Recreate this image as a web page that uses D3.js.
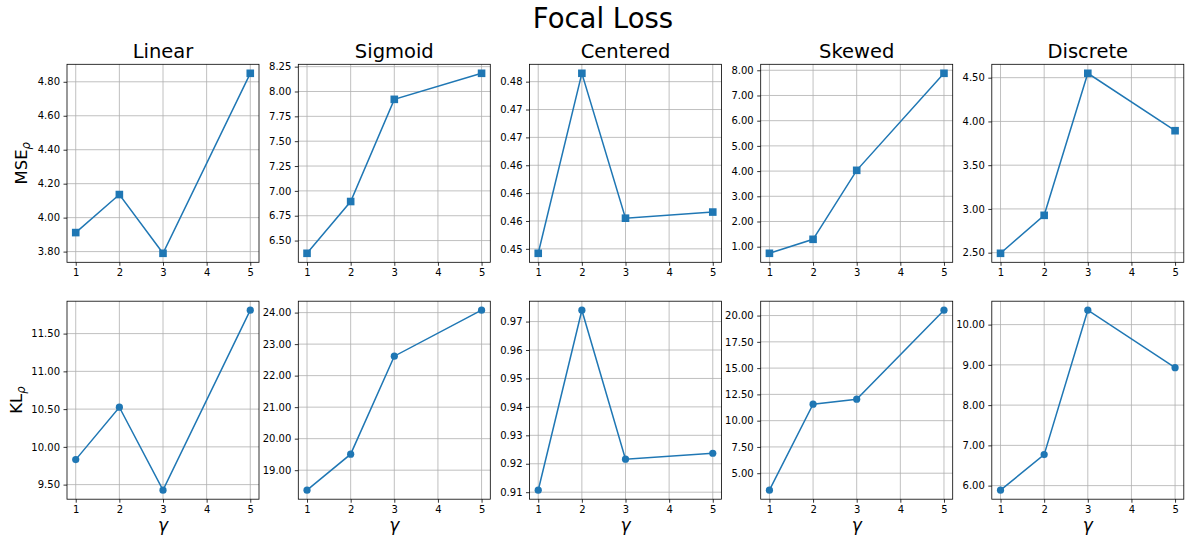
<!DOCTYPE html>
<html>
<head>
<meta charset="utf-8">
<script src="https://cdn.jsdelivr.net/npm/d3@7"></script>
<style>
  body { margin: 0; background: #fff; }
  svg { display: block; font-family: "DejaVu Sans", sans-serif; }
</style>
</head>
<body>
<div id="chart"></div>
<script>
// data
var gammas = [1, 2, 3, 5];
var xTicks = [1, 2, 3, 4, 5];
var schemes = ["Linear", "Sigmoid", "Centered", "Skewed", "Discrete"];

var mseValues = [
  [3.912, 4.136, 3.790, 4.850],
  [6.372, 6.893, 7.921, 8.183],
  [0.4492, 0.4815, 0.4555, 0.4566],
  [0.738, 1.293, 4.030, 7.880],
  [2.493, 2.927, 4.550, 3.894]
];
var klValues = [
  [9.831, 10.525, 9.426, 11.810],
  [18.365, 19.508, 22.617, 24.076],
  [0.9107, 0.9740, 0.9216, 0.9237],
  [3.383, 11.565, 12.040, 20.510],
  [5.886, 6.770, 10.358, 8.930]
];

var mseTicks = [
  [3.8, 4.0, 4.2, 4.4, 4.6, 4.8],
  [6.5, 6.75, 7.0, 7.25, 7.5, 7.75, 8.0, 8.25],
  [0.45, 0.455, 0.46, 0.465, 0.47, 0.475, 0.48],
  [1, 2, 3, 4, 5, 6, 7, 8],
  [2.5, 3.0, 3.5, 4.0, 4.5]
];
var mseTickLabels = [
  ["3.80", "4.00", "4.20", "4.40", "4.60", "4.80"],
  ["6.50", "6.75", "7.00", "7.25", "7.50", "7.75", "8.00", "8.25"],
  ["0.45", "0.46", "0.46", "0.46", "0.47", "0.47", "0.48"],
  ["1.00", "2.00", "3.00", "4.00", "5.00", "6.00", "7.00", "8.00"],
  ["2.50", "3.00", "3.50", "4.00", "4.50"]
];
var klTicks = [
  [9.5, 10.0, 10.5, 11.0, 11.5],
  [19, 20, 21, 22, 23, 24],
  [0.91, 0.92, 0.93, 0.94, 0.95, 0.96, 0.97],
  [5, 7.5, 10, 12.5, 15, 17.5, 20],
  [6, 7, 8, 9, 10]
];
var klTickLabels = [
  ["9.50", "10.00", "10.50", "11.00", "11.50"],
  ["19.00", "20.00", "21.00", "22.00", "23.00", "24.00"],
  ["0.91", "0.92", "0.93", "0.94", "0.95", "0.96", "0.97"],
  ["5.00", "7.50", "10.00", "12.50", "15.00", "17.50", "20.00"],
  ["6.00", "7.00", "8.00", "9.00", "10.00"]
];

var width = 1190, height = 543;
var color = "#1f77b4";

var svg = d3.select("#chart").append("svg")
    .attr("width", width)
    .attr("height", height);
svg.append("rect").attr("width", width).attr("height", height).attr("fill", "#fff");

svg.append("text")
    .attr("x", 603).attr("y", 28)
    .attr("text-anchor", "middle")
    .style("font-size", "27.5px")
    .text("Focal Loss");

var axW = 192, axH = 198;
var lefts = [67, 298.3, 529.5, 760.7, 991.8];
var rows = [
  {top: 64.3, values: mseValues, ticks: mseTicks, labels: mseTickLabels, name: "MSE", marker: "square", labelX: 21},
  {top: 301.2, values: klValues, ticks: klTicks, labels: klTickLabels, name: "KL", marker: "circle", labelX: 16}
];

////////////////////////////
// one panel per scheme   //
////////////////////////////

var drawPanel = function(row, r, c){
  var left = lefts[c], top = row.top;
  var vals = row.values[c];
  var g = svg.append("g").attr("transform", "translate(" + left + "," + top + ")");

  // matplotlib style 5% margins
  var xs = d3.scaleLinear().domain([0.8, 5.2]).range([0, axW]);
  var lo = d3.min(vals), hi = d3.max(vals), pad = (hi - lo) * 0.05;
  var ys = d3.scaleLinear().domain([lo - pad, hi + pad]).range([axH, 0]);

  // grid
  g.selectAll(".gx").data(xTicks).enter().append("line")
      .attr("x1", function(d){ return xs(d); }).attr("x2", function(d){ return xs(d); })
      .attr("y1", 0).attr("y2", axH)
      .attr("stroke", "#b0b0b0").attr("stroke-width", 0.8);
  g.selectAll(".gy").data(row.ticks[c]).enter().append("line")
      .attr("y1", function(d){ return ys(d); }).attr("y2", function(d){ return ys(d); })
      .attr("x1", 0).attr("x2", axW)
      .attr("stroke", "#b0b0b0").attr("stroke-width", 0.8);

  // axes
  var labels = row.labels[c];
  var yAxis = d3.axisLeft(ys).tickValues(row.ticks[c])
      .tickFormat(function(d, i){ return labels[i]; })
      .tickSize(3.5).tickPadding(3.5);
  var xAxis = d3.axisBottom(xs).tickValues(xTicks)
      .tickFormat(d3.format("d")).tickSize(3.5).tickPadding(3.5);

  var ya = g.append("g").call(yAxis);
  var xa = g.append("g").attr("transform", "translate(0," + axH + ")").call(xAxis);
  [ya, xa].forEach(function(a){
    a.select(".domain").remove();
    a.selectAll("line").attr("stroke", "#000").attr("stroke-width", 0.8);
    a.selectAll("text").attr("fill", "#000")
        .style("font-size", "10px").style("font-family", "DejaVu Sans");
  });

  g.append("rect").attr("width", axW).attr("height", axH)
      .attr("fill", "none").attr("stroke", "#000").attr("stroke-width", 0.8);

  // line + markers
  var pts = gammas.map(function(x, i){ return [x, vals[i]]; });
  g.append("path").datum(pts)
      .attr("fill", "none").attr("stroke", color).attr("stroke-width", 1.5)
      .attr("d", d3.line().x(function(d){ return xs(d[0]); }).y(function(d){ return ys(d[1]); }));

  if (row.marker === "square"){
    g.selectAll(".m").data(pts).enter().append("rect")
        .attr("x", function(d){ return xs(d[0]) - 3.8; })
        .attr("y", function(d){ return ys(d[1]) - 3.8; })
        .attr("width", 7.6).attr("height", 7.6)
        .attr("fill", color);
  } else {
    g.selectAll(".m").data(pts).enter().append("circle")
        .attr("cx", function(d){ return xs(d[0]); })
        .attr("cy", function(d){ return ys(d[1]); })
        .attr("r", 3.6)
        .attr("fill", color);
  }

  if (r === 0){
    g.append("text")
        .attr("x", axW / 2).attr("y", -6)
        .attr("text-anchor", "middle")
        .style("font-size", "19.5px")
        .text(schemes[c]);
  } else {
    g.append("text")
        .attr("x", axW / 2).attr("y", axH + 32)
        .attr("text-anchor", "middle")
        .style("font-size", "17px").style("font-style", "italic")
        .text("\u03b3");
  }

  if (c === 0){
    var lab = svg.append("text")
        .attr("transform", "translate(" + row.labelX + "," + (top + axH / 2) + ") rotate(-90)")
        .attr("text-anchor", "middle")
        .attr("dy", "0.35em")
        .style("font-size", "16.5px");
    lab.append("tspan").text(row.name);
    lab.append("tspan").attr("dy", "0.3em")
        .style("font-size", "11.5px").style("font-style", "italic").text("\u03c1");
  }
}

rows.forEach(function(row, r){
  schemes.forEach(function(s, c){ drawPanel(row, r, c); });
});
</script>
</body>
</html>
